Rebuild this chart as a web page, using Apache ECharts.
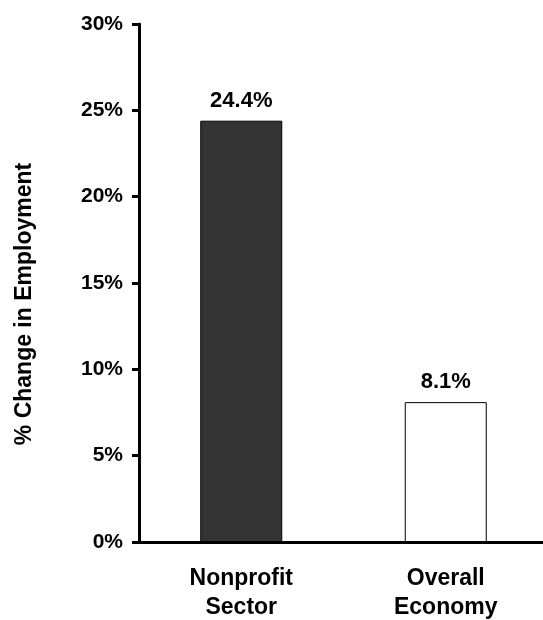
<!DOCTYPE html>
<html>
<head>
<meta charset="utf-8">
<script src="https://cdn.jsdelivr.net/npm/echarts@6/dist/echarts.min.js"></script>
<style>html,body{margin:0;padding:0;background:#fff}#c{width:543px;height:620px}</style>
</head>
<body>
<div id="c"></div>
<script>
const categories = ["Nonprofit\nSector", "Overall\nEconomy"];
const values = [24.4, 8.1];
const barColors = ["#333333", "#ffffff"];
const yTicks = [0, 5, 10, 15, 20, 25, 30];

const FONT = "'Liberation Sans', Arial, sans-serif";
const chart = echarts.init(document.getElementById('c'));
chart.setOption({
  animation: false,
  backgroundColor: '#fff',
  grid: { left: 139, top: 24, width: 409, bottom: 78, containLabel: false, outerBoundsMode: 'none' },
  xAxis: {
    type: 'category',
    data: categories,
    axisLine: { lineStyle: { color: '#000', width: 3 } },
    axisTick: { show: false },
    axisLabel: {
      color: '#000', fontFamily: FONT, fontWeight: 'bold', fontSize: 23,
      lineHeight: 29, margin: 22
    }
  },
  yAxis: {
    type: 'value', min: 0, max: 30, interval: 5,
    name: '% Change in Employment',
    nameLocation: 'middle', nameGap: 103, nameRotate: 90,
    nameTextStyle: { color: '#000', fontFamily: FONT, fontWeight: 'bold', fontSize: 23, padding: [0, 42, 0, 0] },
    axisLine: { show: true, lineStyle: { color: '#000', width: 3 } },
    axisTick: { show: true, length: 7, lineStyle: { color: '#000', width: 3 } },
    splitLine: { show: false },
    axisLabel: {
      color: '#000', fontFamily: FONT, fontWeight: 'bold', fontSize: 21, margin: 16,
      formatter: v => yTicks.includes(v) ? v + '%' : ''
    }
  },
  series: [{
    type: 'bar',
    barWidth: 82,
    data: values.map((v, i) => ({ value: v, itemStyle: { color: barColors[i], borderColor: '#000', borderWidth: 1 } })),
    label: {
      show: true, position: 'top', distance: 9,
      color: '#000', fontFamily: FONT, fontWeight: 'bold', fontSize: 22,
      formatter: p => p.value.toFixed(1) + '%'
    }
  }]
});
</script>
</body>
</html>
